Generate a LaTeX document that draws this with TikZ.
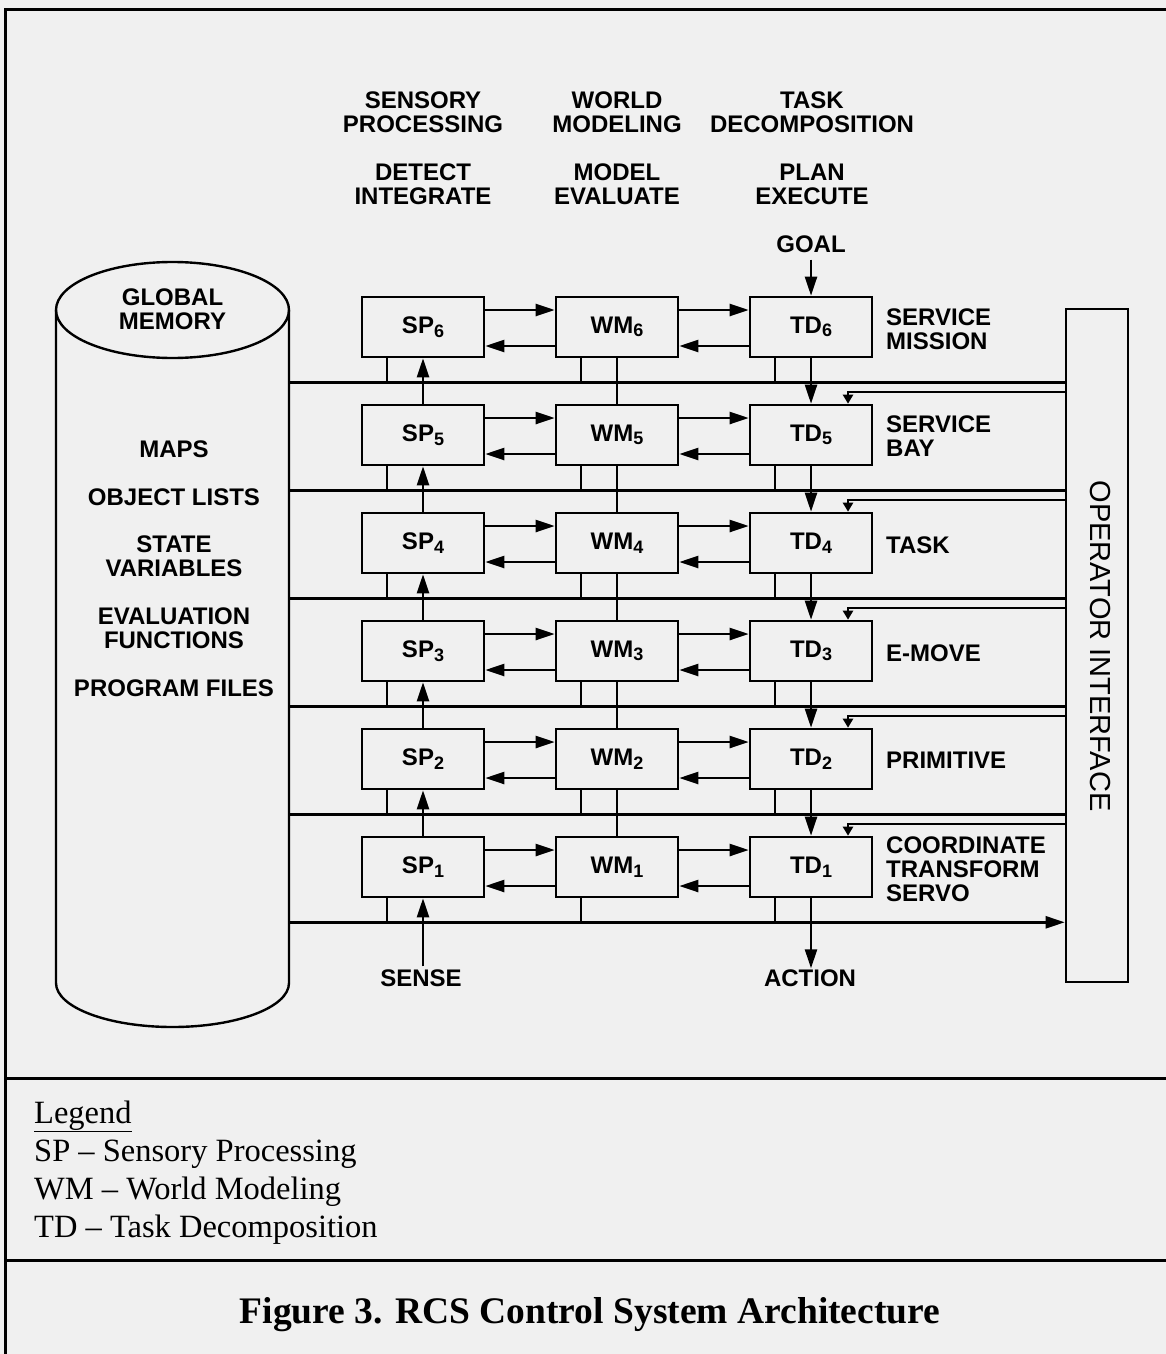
\documentclass[tikz,border=0pt]{standalone}
\usepackage{fontspec}
\setmainfont{Liberation Serif}
\newfontfamily\helvfont{Liberation Sans}
\usetikzlibrary{arrows.meta}
\newcommand{\lvsub}[1]{\raisebox{-0.28ex}{\fontsize{18}{18}\selectfont #1}}

\begin{document}
\begin{tikzpicture}[x=1pt, y=-1pt, line width=2.4pt, >={Triangle[length=19pt,width=12pt]},
  lab/.style={font=\helvfont\bfseries\fontsize{24}{24}\selectfont, align=center, inner sep=0pt},
  unit/.style={lab, draw, line width=2.6pt, minimum width=122pt, minimum height=60pt},
  small/.style={-{Triangle[length=9pt,width=10pt]}},
  legendtxt/.style={font=\fontsize{32.5}{32.5}\selectfont, anchor=base west, inner sep=0pt}]

  % Page and frame
  \fill[black!6] (0,0) rectangle (1166,1354);
  \useasboundingbox (0,0) rectangle (1166,1354);
  \draw[line width=3pt] (5,1354) -- (5,10) -- (1166,10);
  \draw[line width=3pt] (5,1078) -- (1166,1078);
  \draw[line width=3pt] (5,1260) -- (1166,1260);

  % Column headings
  \node[lab] (hsp) at (423,112) {SENSORY\\PROCESSING};
  \node[lab] (hwm) at (617,112) {WORLD\\MODELING};
  \node[lab] (htd) at (812,112) {TASK\\DECOMPOSITION};
  \node[lab] (fsp) at (423,184) {DETECT\\INTEGRATE};
  \node[lab] (fwm) at (617,184) {MODEL\\EVALUATE};
  \node[lab] (ftd) at (812,184) {PLAN\\EXECUTE};
  \node[lab] (goal) at (811,244) {GOAL};

  % Global memory cylinder
  \draw (172.5,310) ellipse [x radius=116.5, y radius=48];
  \draw (56,310) -- (56,983) arc[start angle=180, end angle=0, x radius=116.5, y radius=44] -- (289,310);
  \coordinate (gmR) at (289,310);
  \node[lab] (gm) at (172.5,309) {GLOBAL\\MEMORY};
  \foreach \n/\yy/\txt in {maps/449/MAPS, obj/497/OBJECT LISTS, state/556.5/{STATE\\VARIABLES},
                           eval/628/{EVALUATION\\FUNCTIONS}, prog/688/PROGRAM FILES}
    \node[lab] (\n) at (174,\yy) {\txt};

  % Processing units, one row per level
  \foreach \i in {1,...,6} {
    \pgfmathsetmacro{\yy}{867-108*(\i-1)}
    \node[unit] (sp\i) at (423,\yy) {SP\lvsub{\i}};
    \node[unit] (wm\i) at (617,\yy) {WM\lvsub{\i}};
    \node[unit] (td\i) at (811,\yy) {TD\lvsub{\i}};
    \coordinate (bus\i) at ([yshift=-24pt]sp\i.south);
  }

  % Operator interface
  \node[draw, line width=2.6pt, minimum width=62pt, minimum height=673pt, inner sep=0pt] (oi) at (1097,645.5) {};
  \node[rotate=-90, inner sep=0pt, font=\helvfont\fontsize{29}{29}\selectfont] (oitext) at (1100,646) {OPERATOR INTERFACE};

  % Level labels
  \foreach \i/\yy/\txt in {6/329/{SERVICE\\MISSION}, 5/436/{SERVICE\\BAY}, 4/545/TASK,
                           3/653/E-MOVE, 2/760/PRIMITIVE, 1/869/{COORDINATE\\TRANSFORM\\SERVO}}
    \node[lab, align=left, anchor=west] (lvl\i) at (885,\yy) {\txt};

  % Memory buses
  \foreach \i in {2,...,6}
    \draw (gmR |- bus\i) -- (oi.west |- bus\i);
  \draw[->] (gmR |- bus1) -- (oi.west |- bus1);

  % Links inside each level
  \foreach \i in {1,...,6} {
    \draw[->] ([yshift=17pt]sp\i.east) -- ([yshift=17pt]wm\i.west);
    \draw[->] ([yshift=-19pt]wm\i.west) -- ([yshift=-19pt]sp\i.east);
    \draw[->] ([yshift=17pt]wm\i.east) -- ([yshift=17pt]td\i.west);
    \draw[->] ([yshift=-19pt]td\i.west) -- ([yshift=-19pt]wm\i.east);
    \foreach \b in {sp,wm,td}
      \draw ([xshift=-36pt]\b\i.south) -- ++(0,-24pt);
  }

  % Links between levels
  \foreach \i [count=\j] in {2,...,6} {
    \draw[->] (sp\j.north) -- (sp\i.south);
    \draw (wm\i.south) -- (wm\j.north);
    \draw[->] (td\i.south) -- (td\j.north);
  }

  % Operator commands into task decomposition
  \foreach \j in {1,...,5} {
    \coordinate (op\j) at ([shift={(37pt,12pt)}]td\j.north);
    \draw[small] (oi.west |- op\j) -| (td\j.north -| op\j);
  }

  % Goal, sense and action
  \draw[->, shorten <=6pt] (goal.south -| td6.north) -- (td6.north);
  \node[lab] (sense) at (421,978) {SENSE};
  \node[lab] (action) at (810,978) {ACTION};
  \draw[->] ([yshift=2pt]sense.north -| sp1.south) -- (sp1.south);
  \draw[->] (td1.south) -- (td1.south |- action.north);

  % Legend and caption
  \node[legendtxt] (leg0) at (33,1123) {\underline{Legend}};
  \node[legendtxt] (leg1) at (33,1161) {SP \textendash\ Sensory Processing};
  \node[legendtxt] (leg2) at (33,1199) {WM \textendash\ World Modeling};
  \node[legendtxt] (leg3) at (33,1237) {TD \textendash\ Task Decomposition};
  \node[font=\bfseries\fontsize{37.5}{37.5}\selectfont, anchor=base, inner sep=0pt] (title) at (590,1323)
    {Figure 3. RCS Control System Architecture};
\end{tikzpicture}
\end{document}
